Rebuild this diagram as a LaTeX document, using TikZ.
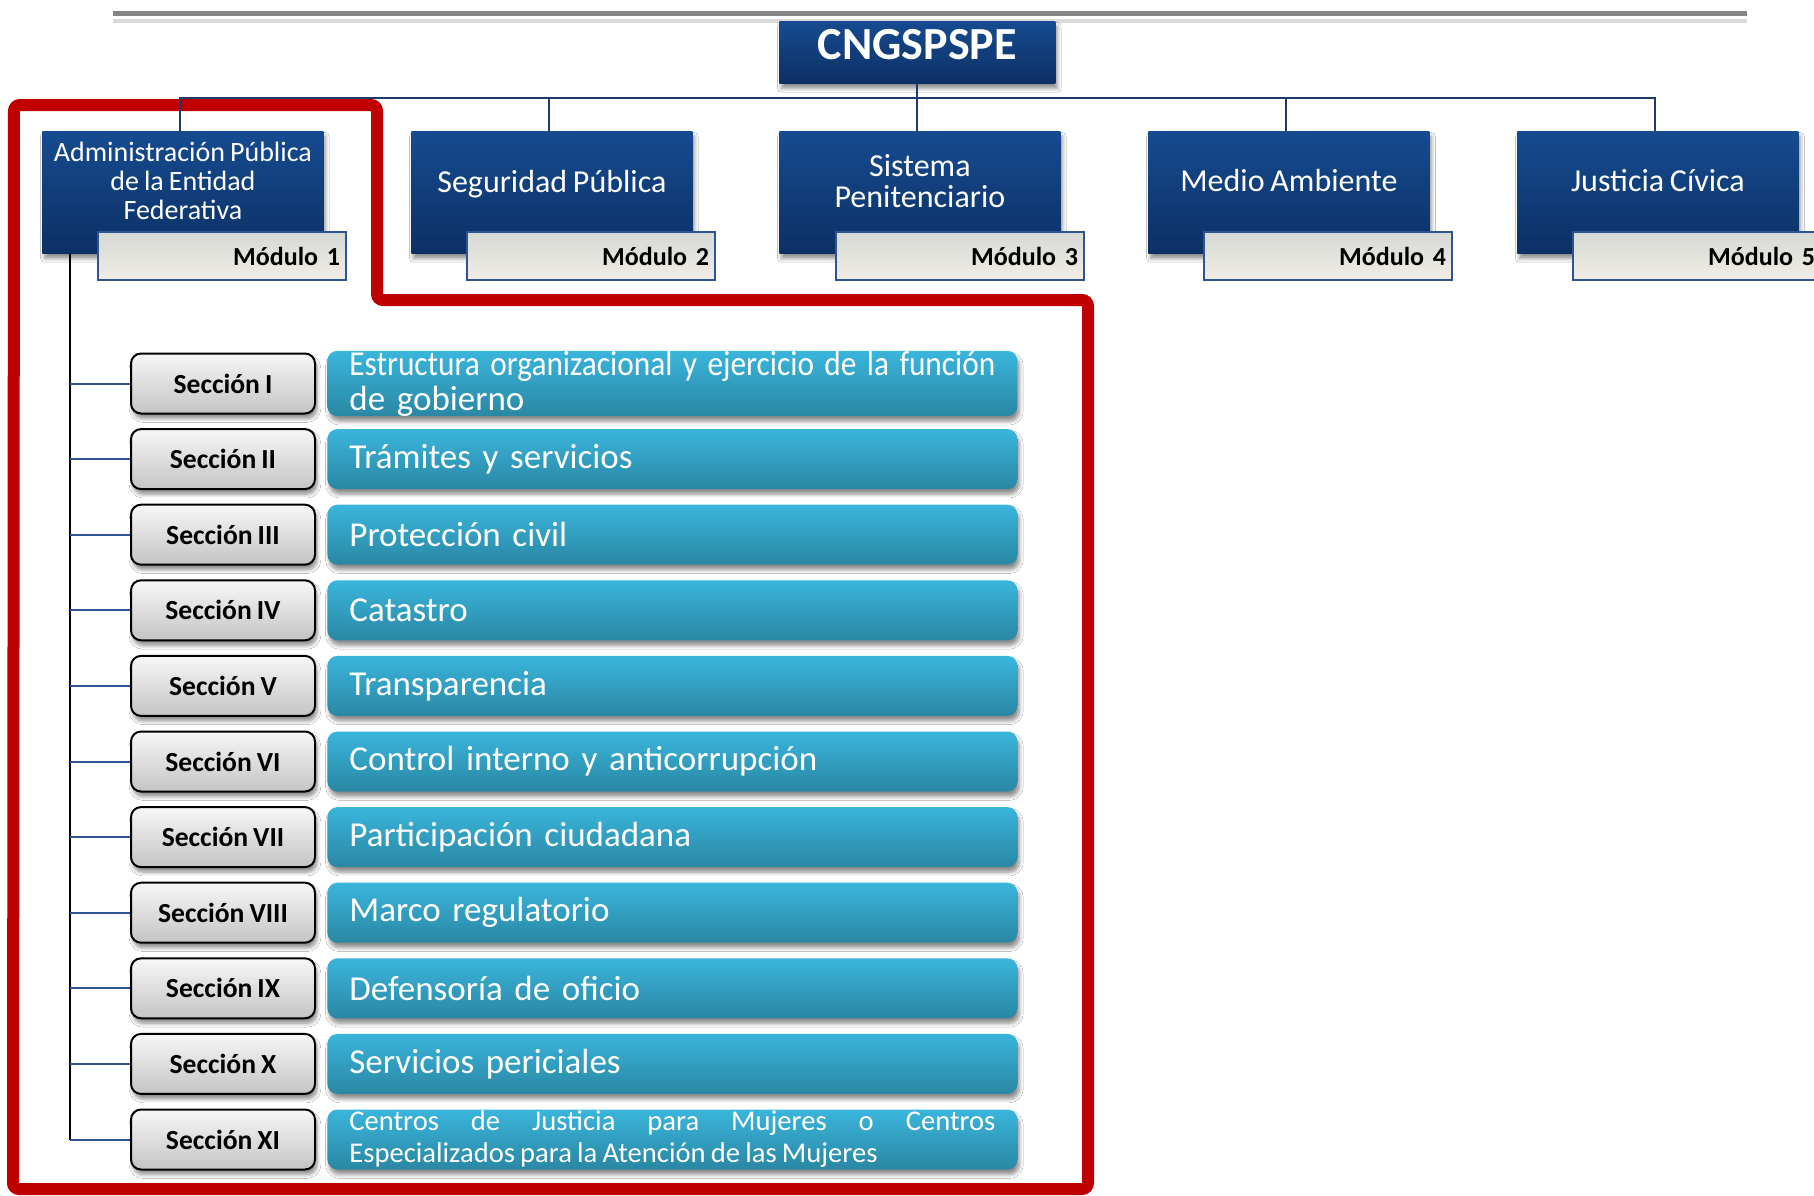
\documentclass[tikz,border=0pt]{standalone}
\usepackage{fontspec}
\setmainfont{Carlito}[WordSpace=0.8]
\usetikzlibrary{shadows.blur}
\definecolor{navyTop}{HTML}{164B90}
\definecolor{navyBot}{HTML}{0C3064}
\definecolor{connc}{HTML}{1F3B6A}
\definecolor{tabTop}{HTML}{D6D9D5}
\definecolor{tabBot}{HTML}{F0EDE5}
\definecolor{tabEdge}{HTML}{2E5592}
\definecolor{barTop}{HTML}{3AB5DC}
\definecolor{barBot}{HTML}{2A87A3}
\definecolor{frameRed}{HTML}{C00000}
\definecolor{secTop}{HTML}{F7F7F7}
\definecolor{secBot}{HTML}{C4C4C4}
\definecolor{branchc}{HTML}{2F5496}
\tikzset{
  softshadow/.style={blur shadow={shadow xshift=1pt, shadow yshift=-2.5pt, shadow blur steps=6, shadow opacity=45}},
  modbox/.style={draw=none, top color=navyTop, bottom color=navyBot, minimum width=140.5pt, minimum height=61pt, anchor=north west, inner sep=0pt, softshadow},
  modtxt/.style={text=white, align=center, inner sep=0pt, font=\fontsize{16}{15.5}\selectfont},
  tabbox/.style={draw=tabEdge, line width=1pt, top color=tabTop, bottom color=tabBot, minimum height=24pt, text width=118pt, align=right, inner xsep=3pt, inner ysep=0pt, anchor=north west, font=\fontsize{13}{13}\selectfont\bfseries},
  secbox/.style={draw=black, line width=1pt, rounded corners=5pt, top color=secTop, bottom color=secBot, minimum width=92pt, minimum height=30pt, inner sep=0pt, anchor=west, font=\fontsize{13.8}{14}\selectfont\bfseries, softshadow},
  barbox/.style={rounded corners=5pt, top color=barTop, bottom color=barBot, minimum width=345pt, minimum height=30pt, text width=323pt, inner xsep=11pt, inner ysep=0pt, align=left, text=white, anchor=west, font=\fontsize{17.5}{17.5}\selectfont, softshadow},
  connline/.style={draw=connc, line width=1pt},
  branchline/.style={draw=branchc, line width=1pt},
  trunkline/.style={draw=black, line width=1pt},
  redframe/.style={draw=frameRed, line width=6pt, rounded corners=3pt}
}
\begin{document}
\begin{tikzpicture}[x=0.5pt,y=-0.5pt]
\clip (0,0) rectangle (1814,1195);
\fill[white] (0,0) rectangle (1814,1195);
% top rules
\draw[line width=2.5pt, color=black!48] (113,13.5) -- (1747,13.5);
\draw[line width=2pt, color=black!15] (113,21) -- (1747,21);
% red frame
\draw[redframe] (14,105) -- (377,105) -- (377,300) -- (1088,300) -- (1088,1189) -- (13,1189) -- cycle;
% root
\node[modbox, minimum width=138pt, minimum height=31pt] (cng) at (779,21) {};
\node[text=white, inner sep=0pt, font=\fontsize{23}{23}\selectfont\bfseries] (cngt) at ([yshift=4pt]cng.center) {CNGSPSPE};
% module boxes
\node[modbox] (b1) at (42,131) {};
\node[modbox] (b2) at (411,131) {};
\node[modbox] (b3) at (779,131) {};
\node[modbox] (b4) at (1148,131) {};
\node[modbox] (b5) at (1517,131) {};
% connectors
\foreach \b in {b1,b2,b3,b4,b5}{
  \draw[connline] ([xshift=-1.25pt]\b.north) -- ++(0,-33) -| (cng.south);
}
% box texts
\node[modtxt, font=\fontsize{14}{14.5}\selectfont] (b1t) at ([yshift=-25pt]b1.north) {Administración Pública\\de la Entidad\\Federativa};
\node[modtxt] (b2t) at ([yshift=-26.5pt]b2.north) {Seguridad Pública};
\node[modtxt] (b3t) at ([yshift=-25pt]b3.north) {Sistema\\Penitenciario};
\node[modtxt] (b4t) at ([yshift=-25pt]b4.north) {Medio Ambiente};
\node[modtxt] (b5t) at ([yshift=-25pt]b5.north) {Justicia Cívica};
% tabs
\node[tabbox] (m1) at (97,231) {Módulo 1};
\node[tabbox] (m2) at (466,231) {Módulo 2};
\node[tabbox] (m3) at (835,231) {Módulo 3};
\node[tabbox] (m4) at (1203,231) {Módulo 4};
\node[tabbox] (m5) at (1572,231) {Módulo 5};
% sections
\coordinate (trunk) at ([xshift=14pt]b1.south west);
\foreach \i/\lab in {1/I,2/II,3/III,4/IV,5/V,6/VI,7/VII,8/VIII,9/IX,10/X,11/XI}{
  \pgfmathsetmacro\yy{383.5+75.6*(\i-1)}
  \node[secbox] (s\i) at (130,\yy) {Sección \lab};
}
\node[barbox] (t1) at (327,383.5) {\resizebox{323pt}{\height}{Estructura organizacional y ejercicio de la función}\\de gobierno};
\node[barbox] (t2) at (327,459.1) {Trámites y servicios};
\node[barbox] (t3) at (327,534.7) {Protección civil};
\node[barbox] (t4) at (327,610.3) {Catastro};
\node[barbox] (t5) at (327,685.9) {Transparencia};
\node[barbox] (t6) at (327,761.5) {Control interno y anticorrupción};
\node[barbox] (t7) at (327,837.1) {Participación ciudadana};
\node[barbox] (t8) at (327,912.7) {Marco regulatorio};
\node[barbox] (t9) at (327,988.3) {Defensoría de oficio};
\node[barbox] (t10) at (327,1063.9) {Servicios periciales};
\node[barbox, align=justify, font=\fontsize{14.3}{16}\selectfont] (t11) at (327,1139.5) {Centros de Justicia para Mujeres o Centros\linebreak Especializados para la Atención de las Mujeres};
% tree
\draw[trunkline] (trunk) -- (trunk |- s11.west);
\foreach \i in {1,...,11}{
  \draw[branchline] (trunk |- s\i.west) -- (s\i.west);
}
\end{tikzpicture}
\end{document}
